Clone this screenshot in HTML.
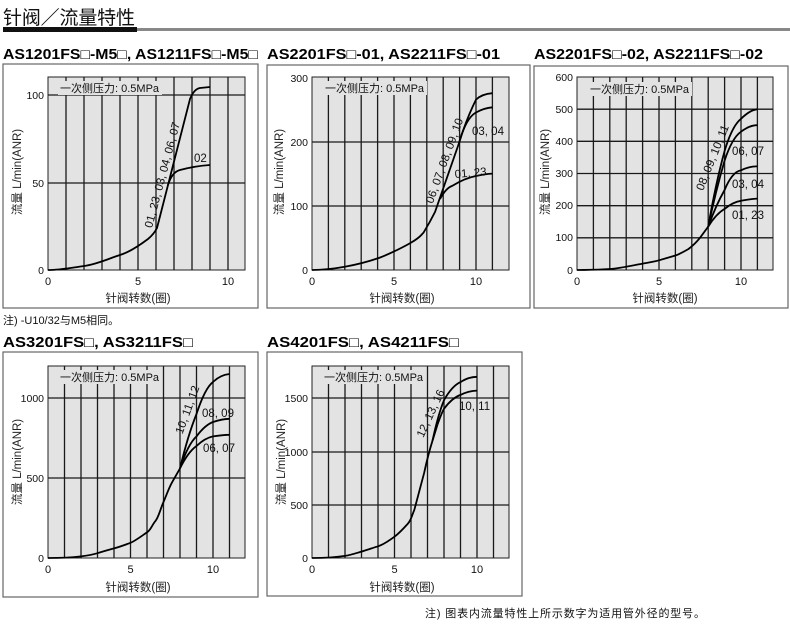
<!DOCTYPE html>
<html><head><meta charset="utf-8"><style>
body{margin:0;background:#fff;width:790px;height:626px;overflow:hidden}
svg{display:block;font-family:"Liberation Sans","Noto Sans CJK SC",sans-serif}
.pl{fill:#e3e3e3;stroke:#222;stroke-width:1}
.g{stroke:#1a1a1a;stroke-width:1.3;fill:none}
.c{stroke:#000;stroke-width:1.8;fill:none}
.pn{fill:#fff;stroke:#666;stroke-width:1.2}
.t{font-size:11px;fill:#111}
.tk{font-size:11px;fill:#111}
.yt{font-size:10.5px;fill:#111;text-anchor:end}
.h{font-size:14.5px;font-weight:bold;fill:#000}
.ax{font-size:11.5px;fill:#222}
.lb{font-size:11.5px;fill:#111}
</style></head><body>
<svg width="790" height="626" viewBox="0 0 790 626">
<text x="3" y="24" font-size="19" fill="#111" textLength="132">针阀／流量特性</text>
<rect x="137" y="28" width="653" height="3" fill="#888"/>
<rect x="3" y="27" width="134" height="5" fill="#111"/>

<!-- Chart 1 -->
<text class="h" x="3" y="59" textLength="255" lengthAdjust="spacingAndGlyphs">AS1201FS□-M5□, AS1211FS□-M5□</text>
<rect class="pn" x="3" y="64" width="255" height="244"/>
<rect class="pl" x="48" y="77" width="197" height="193"/>
<path class="g" d="M66,77V270M84,77V270M102,77V270M120,77V270M138,77V270M156,77V270M174,77V270M192,77V270M210,77V270M228,77V270M48,183H245M48,95H245"/>
<rect x="58" y="81" width="104" height="14" fill="#e3e3e3"/>
<text class="t" x="60" y="92">一次侧压力: 0.5MPa</text>
<path class="c" d="M48,270 C60,270 70,268 84,266 S110,258 120,255 S140,245 148,239 Q154,234 157,228 L190,99 Q194,89 200,88 L210,87"/>
<path class="c" d="M168,185 Q172,172 180,170 Q195,166 210,165"/>
<text class="lb" transform="translate(166,176) rotate(-75)" text-anchor="middle">01, 23, 03, 04, 06, 07</text>
<text class="lb" x="194" y="162">02</text>
<text class="yt" x="44" y="99">100</text><text class="yt" x="44" y="187">50</text><text class="yt" x="44" y="274">0</text>
<text class="tk" x="48" y="285" text-anchor="middle">0</text><text class="tk" x="138" y="285" text-anchor="middle">5</text><text class="tk" x="228" y="285" text-anchor="middle">10</text>
<text class="ax" x="138" y="302" text-anchor="middle">针阀转数(圈)</text>
<text class="ax" transform="translate(21,172) rotate(-90)" text-anchor="middle">流量  L/min(ANR)</text>

<!-- Chart 2 -->
<text class="h" x="267" y="59" textLength="233" lengthAdjust="spacingAndGlyphs">AS2201FS□-01, AS2211FS□-01</text>
<rect class="pn" x="267" y="65" width="263" height="243"/>
<rect class="pl" x="312" y="77" width="197" height="193"/>
<path class="g" d="M328.4,77V270M344.8,77V270M361.2,77V270M377.6,77V270M394,77V270M410.4,77V270M426.8,77V270M443.2,77V270M459.6,77V270M476,77V270M492.4,77V270M312,206H509M312,142H509"/>
<rect x="323" y="81" width="104" height="14" fill="#e3e3e3"/>
<text class="t" x="325" y="92">一次侧压力: 0.5MPa</text>
<path class="c" d="M312,270 C322,270 330,269.5 344.8,266.8 S370,261 377.6,258.4 S400,249 410.4,243 S420,236 423.5,232.7 Q430,222 435,212 L459.6,141.4 Q466,120 476,99.6 Q482,94 492.4,93.2"/>
<path class="c" d="M459,143 Q466,118 476,112.5 Q484,108 492.4,107.3"/>
<path class="c" d="M440,199 Q446,188 452,186 Q465,178 476,176 Q485,174 492.4,173.6"/>
<text class="lb" transform="translate(448,162) rotate(-70)" text-anchor="middle">06, 07, 08, 09, 10</text>
<text class="lb" x="472" y="135">03, 04</text>
<text class="lb" x="455" y="178" transform="rotate(-5 455 178)">01, 23</text>
<text class="yt" x="308" y="82">300</text><text class="yt" x="308" y="146">200</text><text class="yt" x="308" y="210">100</text><text class="yt" x="308" y="274">0</text>
<text class="tk" x="312" y="285" text-anchor="middle">0</text><text class="tk" x="394" y="285" text-anchor="middle">5</text><text class="tk" x="476" y="285" text-anchor="middle">10</text>
<text class="ax" x="402" y="302" text-anchor="middle">针阀转数(圈)</text>
<text class="ax" transform="translate(283,172) rotate(-90)" text-anchor="middle">流量  L/min(ANR)</text>

<!-- Chart 3 -->
<text class="h" x="534" y="59" textLength="229" lengthAdjust="spacingAndGlyphs">AS2201FS□-02, AS2211FS□-02</text>
<rect class="pn" x="534" y="66" width="254" height="242"/>
<rect class="pl" x="577" y="77" width="196" height="193"/>
<path class="g" d="M593.4,77V270M609.8,77V270M626.2,77V270M642.6,77V270M659,77V270M675.4,77V270M691.8,77V270M708.2,77V270M724.6,77V270M741,77V270M757.4,77V270M577,237.8H773M577,205.7H773M577,173.5H773M577,141.3H773M577,109.2H773"/>
<rect x="588" y="82" width="104" height="14" fill="#e3e3e3"/>
<text class="t" x="590" y="93">一次侧压力: 0.5MPa</text>
<path class="c" d="M577,270 C595,270 600,269.5 609.8,269 S635,265 642.6,263.6 S655,261.5 659,260.3 S672,256.5 675.4,255.5 S685,251 688.5,249 Q695,244 700,237.8 L708.2,226.6"/>
<path class="c" d="M708.2,226.6 Q716,214 724.6,208.9 Q733,202 741,200.8 Q750,199 757.4,198.6"/>
<path class="c" d="M708.2,226.6 Q716,205 724.6,190 Q732,172 741,170.3 Q750,166 757.4,166.4"/>
<path class="c" d="M708.2,226.6 Q716,190 724.6,160.6 Q732,138 741,131.7 Q750,125 757.4,125.2"/>
<path class="c" d="M708.2,226.6 Q716,182 724.6,151 Q732,126 741,118.8 Q750,110 757.4,109.2"/>
<text class="lb" transform="translate(716,159) rotate(-68)" text-anchor="middle">08, 09, 10, 11</text>
<text class="lb" x="732" y="155">06, 07</text>
<text class="lb" x="732" y="188">03, 04</text>
<text class="lb" x="732" y="219">01, 23</text>
<text class="yt" x="573" y="81">600</text><text class="yt" x="573" y="113">500</text><text class="yt" x="573" y="145">400</text><text class="yt" x="573" y="177">300</text><text class="yt" x="573" y="209">200</text><text class="yt" x="573" y="241">100</text><text class="yt" x="573" y="274">0</text>
<text class="tk" x="577" y="285" text-anchor="middle">0</text><text class="tk" x="659" y="285" text-anchor="middle">5</text><text class="tk" x="741" y="285" text-anchor="middle">10</text>
<text class="ax" x="665" y="302" text-anchor="middle">针阀转数(圈)</text>
<text class="ax" transform="translate(549,172) rotate(-90)" text-anchor="middle">流量  L/min(ANR)</text>

<text x="3" y="324" font-size="11" fill="#111">注) -U10/32与M5相同。</text>

<!-- Chart 4 -->
<text class="h" x="3" y="347" textLength="190" lengthAdjust="spacingAndGlyphs">AS3201FS□, AS3211FS□</text>
<rect class="pn" x="3" y="352" width="255" height="245"/>
<rect class="pl" x="48" y="366" width="197" height="192"/>
<path class="g" d="M64.5,366V558M81,366V558M97.5,366V558M114,366V558M130.5,366V558M147,366V558M163.5,366V558M180,366V558M196.5,366V558M213,366V558M229.5,366V558M48,478H245M48,398H245"/>
<rect x="58" y="370" width="104" height="14" fill="#e3e3e3"/>
<text class="t" x="60" y="381">一次侧压力: 0.5MPa</text>
<path class="c" d="M48,558 C65,558 72,557.5 81,556.4 S95,554 97.5,553.2 S110,549.5 114,548.4 S126,544.5 130.5,542.8 S143,535 147,532.4 S152,525 155.3,521.2 S160,510 163.5,502 S168,490 171.8,482.8 L180,468.4"/>
<path class="c" d="M180,468.4 Q188,452 196.5,446 Q205,438 213,436.4 Q222,435 229.5,434.8"/>
<path class="c" d="M180,468.4 Q188,444 196.5,436.4 Q205,425 213,422 Q222,419 229.5,418.8"/>
<path class="c" d="M180,468.4 Q188,435 196.5,414 Q205,388 213,382 Q220,375 229.5,374"/>
<text class="lb" transform="translate(191,411) rotate(-70)" text-anchor="middle">10, 11, 12</text>
<text class="lb" x="202" y="417">08, 09</text>
<text class="lb" x="203" y="452">06, 07</text>
<text class="yt" x="44" y="402">1000</text><text class="yt" x="44" y="482">500</text><text class="yt" x="44" y="562">0</text>
<text class="tk" x="48" y="573" text-anchor="middle">0</text><text class="tk" x="130.5" y="573" text-anchor="middle">5</text><text class="tk" x="213" y="573" text-anchor="middle">10</text>
<text class="ax" x="138" y="591" text-anchor="middle">针阀转数(圈)</text>
<text class="ax" transform="translate(21,462) rotate(-90)" text-anchor="middle">流量  L/min(ANR)</text>

<!-- Chart 5 -->
<text class="h" x="267" y="347" textLength="192" lengthAdjust="spacingAndGlyphs">AS4201FS□, AS4211FS□</text>
<rect class="pn" x="267" y="352" width="255" height="244"/>
<rect class="pl" x="312" y="366" width="197" height="192"/>
<path class="g" d="M328.5,366V558M345,366V558M361.5,366V558M378,366V558M394.5,366V558M411,366V558M427.5,366V558M444,366V558M460.5,366V558M477,366V558M493.5,366V558M312,505H509M312,452H509M312,398H509"/>
<rect x="322" y="370" width="104" height="14" fill="#e3e3e3"/>
<text class="t" x="324" y="381">一次侧压力: 0.5MPa</text>
<path class="c" d="M312,558 C330,558 338,557 345,555.9 S358,552.5 361.5,551.6 S374,547.5 378,546.3 S390,540 394.5,536.7 S404,528 407.7,523.9 S412,515 414.3,510 L424.2,472.7 Q428,455 432.5,440.7 L437.4,424.8"/>
<path class="c" d="M437.4,424.8 Q442,412 444,408.8 Q452,398 460.5,394.9 Q468,391 477,390.6"/>
<path class="c" d="M432.5,440.7 Q438,415 444,400.2 Q452,386 460.5,382.1 Q468,377 477,376.8"/>
<text class="lb" transform="translate(434,415) rotate(-65)" text-anchor="middle">12, 13, 16</text>
<text class="lb" x="459" y="410">10, 11</text>
<text class="yt" x="308" y="402">1500</text><text class="yt" x="308" y="456">1000</text><text class="yt" x="308" y="509">500</text><text class="yt" x="308" y="562">0</text>
<text class="tk" x="312" y="573" text-anchor="middle">0</text><text class="tk" x="394.5" y="573" text-anchor="middle">5</text><text class="tk" x="477" y="573" text-anchor="middle">10</text>
<text class="ax" x="402" y="591" text-anchor="middle">针阀转数(圈)</text>
<text class="ax" transform="translate(285,462) rotate(-90)" text-anchor="middle">流量  L/min(ANR)</text>

<text x="425" y="617" font-size="11" fill="#111" textLength="280">注) 图表内流量特性上所示数字为适用管外径的型号。</text>
</svg>
</body></html>
